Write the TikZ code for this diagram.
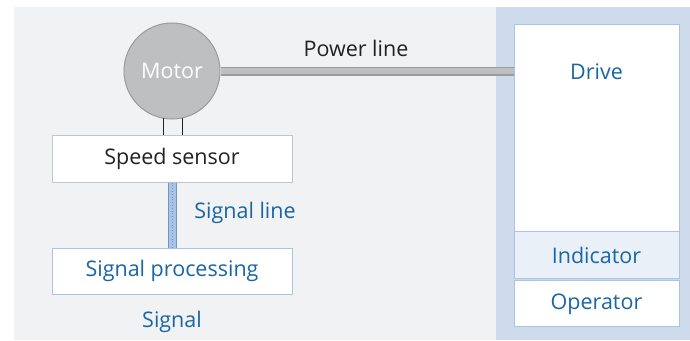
\documentclass[tikz,border=0pt]{standalone}
\usepackage{fontspec}
\setmainfont{Open Sans}
\definecolor{bggray}{HTML}{F1F2F4}
\definecolor{panelblue}{HTML}{CEDBEC}
\definecolor{txtblue}{HTML}{1A66A3}
\definecolor{motorfill}{HTML}{BEBFC1}
\definecolor{motorline}{HTML}{9A9B9D}
\definecolor{boxgray}{HTML}{C4C5C7}
\definecolor{boxblue}{HTML}{A9C3E3}
\definecolor{indfill}{HTML}{EAF0F8}
\definecolor{sigfill}{HTML}{A8C3E5}
\definecolor{sigline}{HTML}{6F97C8}
\definecolor{txtdark}{HTML}{222222}
\begin{document}
\begin{tikzpicture}[x=1pt,y=-1pt,
  lbl/.style={font=\fontsize{21.5}{26}\selectfont, inner sep=0pt},
  graybox/.style={draw=boxgray, line width=1pt, fill=white, inner sep=0pt},
  bluebox/.style={draw=boxblue, line width=1pt, fill=white, inner sep=0pt},
]
\useasboundingbox (0,0) rectangle (690,340);
\fill[white] (0,0) rectangle (690,340);
\fill[bggray] (14,7) rectangle (496,340);
\fill[panelblue] (496,7) rectangle (690,340);
% drive column
\node[bluebox, minimum width=165pt, minimum height=207pt] (drive) at (596.5,127.5) {};
\node[bluebox, fill=indfill, minimum width=165pt, minimum height=47pt] (ind) at (596.5,254.5) {};
\node[bluebox, minimum width=165pt, minimum height=46pt] (op) at (596.5,303) {};
\node[lbl, text=txtblue] (drivelbl) at (596.5,72) {Drive};
\node[lbl, text=txtblue] (indlbl) at (596.5,255) {Indicator};
\node[lbl, text=txtblue] (oplbl) at (596.5,304) {Operator};
% motor
\node[circle, draw=motorline, fill=motorfill, line width=1pt, minimum size=96pt, inner sep=0pt] (motor) at (172,71) {};
\node[lbl, text=white] (motorlbl) at (172,71) {Motor};
% power line
\coordinate (drivein) at (drive.west |- motor.east);
\draw[motorline, line width=9pt] (motor.east) -- (drivein);
\draw[motorfill, line width=6pt] ([xshift=0.5pt]motor.east) -- (drivein);
\node[lbl, text=txtdark] (powerlbl) at (356,48) {Power line};
% speed sensor
\node[graybox, minimum width=240pt, minimum height=47pt] (speed) at (172,158.5) {};
\node[lbl, text=txtdark] (speedlbl) at (172,159) {Speed sensor};
\coordinate (m1) at (163,118);
\coordinate (m2) at (182,118);
\draw[txtdark, line width=0.8pt] (m1) -- (m1 |- speed.north);
\draw[txtdark, line width=0.8pt] (m2) -- (m2 |- speed.north);
% signal processing
\node[bluebox, minimum width=240pt, minimum height=46pt] (sigproc) at (172,271) {};
\node[lbl, text=txtblue] (sigproclbl) at (172,271) {Signal processing};
% signal line
\draw[sigline, line width=9pt] (speed.south) -- (sigproc.north);
\draw[sigfill, line width=7pt] ([yshift=0.5pt]speed.south) -- ([yshift=-0.5pt]sigproc.north);
\draw[sigline, line width=0.8pt, dotted] (speed.south) -- (sigproc.north);
\node[lbl, text=txtblue] (siglinelbl) at (245,213) {Signal line};
\node[lbl, text=txtblue] (siglbl) at (172,322) {Signal};
\end{tikzpicture}
\end{document}
